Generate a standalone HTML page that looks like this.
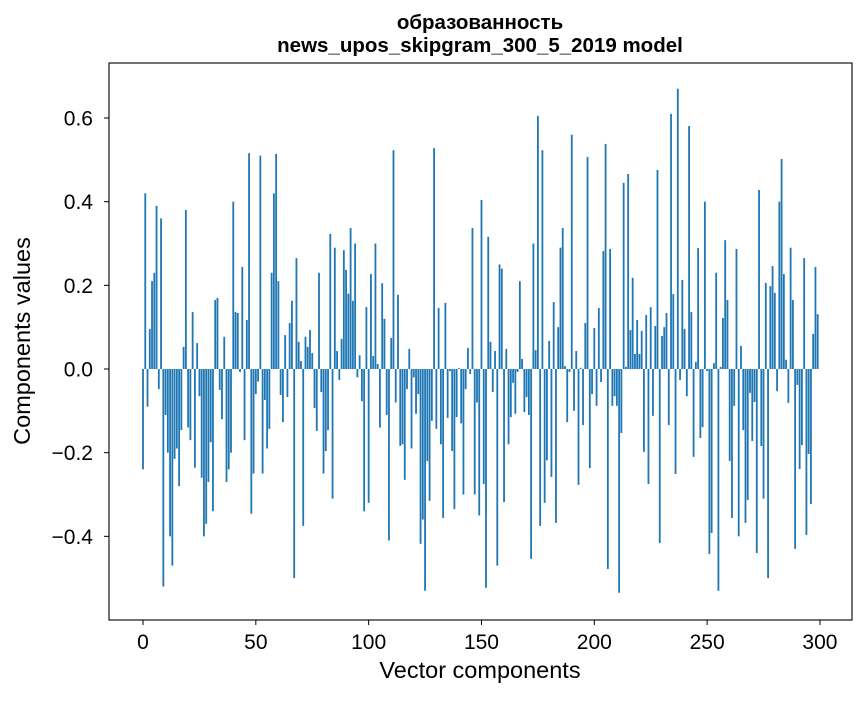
<!DOCTYPE html>
<html><head><meta charset="utf-8"><style>
body{margin:0;background:#fff;}
svg text{font-family:"Liberation Sans","DejaVu Sans",sans-serif;fill:#000;}
</style></head><body>
<svg id="chart" width="867" height="696" viewBox="0 0 867 696" xmlns="http://www.w3.org/2000/svg">
<rect width="867" height="696" fill="#fff"/>
<text x="480" y="29" text-anchor="middle" font-size="20.5" font-weight="bold">образованность</text>
<text x="480" y="52" text-anchor="middle" font-size="20.5" font-weight="bold">news_upos_skipgram_300_5_2019 model</text>
<g id="bars"></g>
<g id="axes"></g>
<text x="480" y="678" text-anchor="middle" font-size="23.5">Vector components</text>
<text transform="translate(30,341) rotate(-90)" text-anchor="middle" font-size="23.5">Components values</text>
</svg>
<script>
const values = [
-0.24,0.42,-0.09,0.096,0.21,0.23,0.39,-0.048,0.36,-0.52,
-0.11,-0.20,-0.40,-0.47,-0.215,-0.19,-0.28,-0.146,0.053,0.38,
-0.14,-0.17,0.136,-0.236,0.062,-0.065,-0.26,-0.40,-0.37,-0.27,
-0.175,-0.34,0.165,0.17,-0.05,-0.12,0.077,-0.27,-0.24,-0.2,
0.40,0.136,0.134,-0.007,0.244,-0.17,0.117,0.516,-0.346,-0.25,
-0.06,-0.03,0.51,-0.25,-0.074,-0.19,-0.143,0.23,0.42,0.514,
0.21,-0.062,-0.127,0.081,-0.067,0.11,0.163,-0.50,0.265,0.065,
0.019,-0.375,0.077,0.053,0.093,0.038,-0.093,-0.148,0.23,-0.055,
-0.25,-0.196,-0.146,0.323,-0.31,0.29,0.043,-0.026,0.072,0.284,
0.237,0.18,0.337,0.163,0.30,-0.02,0.033,-0.077,-0.34,0.148,
-0.32,0.227,0.031,0.30,0.012,-0.14,0.205,0.12,-0.11,-0.41,
0.074,0.523,-0.08,0.177,-0.184,-0.18,-0.265,-0.048,0.048,-0.19,
-0.02,-0.107,-0.06,-0.418,-0.36,-0.53,-0.22,-0.315,-0.124,0.528,
-0.143,0.146,-0.18,-0.356,0.158,-0.117,-0.005,-0.196,-0.335,-0.115,
0.002,-0.13,-0.30,-0.048,0.05,-0.012,0.337,-0.30,-0.08,-0.35,
0.404,-0.275,-0.523,0.316,0.065,-0.055,0.043,-0.47,0.25,0.24,
-0.318,0.048,-0.18,-0.115,-0.033,-0.107,-0.007,0.21,0.024,-0.103,
-0.067,-0.11,-0.454,0.30,0.045,0.605,-0.375,0.523,-0.32,-0.218,
0.067,-0.258,0.16,-0.368,0.10,0.29,0.337,0.007,-0.127,-0.007,
0.56,-0.10,0.043,-0.277,0.003,-0.134,0.11,0.507,-0.237,-0.06,
0.098,-0.088,0.146,-0.031,0.282,0.538,-0.478,0.287,-0.088,-0.065,
-0.088,-0.535,-0.153,0.445,0.005,0.466,0.093,0.218,0.036,0.117,
0.036,0.091,-0.198,0.129,-0.275,0.148,-0.112,0.103,0.476,-0.416,
0.079,0.1,0.134,-0.134,0.61,0.179,-0.251,0.67,-0.026,0.213,
0.096,-0.065,0.581,0.136,-0.21,0.017,0.289,-0.165,-0.139,0.40,
-0.005,-0.442,-0.392,0.014,0.23,-0.53,0.005,0.122,0.308,0.165,
-0.22,-0.356,-0.088,0.287,-0.40,0.055,-0.146,-0.368,-0.313,-0.057,
-0.172,-0.079,-0.44,0.428,-0.184,-0.31,0.206,-0.50,0.198,0.246,
0.182,-0.053,0.40,0.502,0.227,0.022,-0.081,0.29,0.165,-0.43,
-0.038,-0.239,-0.182,0.265,-0.397,-0.203,-0.323,0.084,0.244,0.131
];
const xTicks = [0,50,100,150,200,250,300];
const yTicks = [-0.4,-0.2,0.0,0.2,0.4,0.6];
const yTickLabels = ["\u22120.4","\u22120.2","0.0","0.2","0.4","0.6"];

const L=109,R=852,T=63,B=620;
const xMin=-15.07,xMax=314.2,yMin=-0.6,yMax=0.7315;
function xs(v){return L+(v-xMin)/(xMax-xMin)*(R-L);}
function ys(v){return B-(v-yMin)/(yMax-yMin)*(B-T);}
const NS="http://www.w3.org/2000/svg";
const gb=document.getElementById('bars');
const bw=(xs(0.8)-xs(0));
values.forEach((v,i)=>{
  const r=document.createElementNS(NS,'rect');
  const y0=ys(0),y1=ys(v);
  r.setAttribute('x',xs(i)-bw/2);
  r.setAttribute('y',Math.min(y0,y1));
  r.setAttribute('width',bw);
  r.setAttribute('height',Math.abs(y1-y0));
  r.setAttribute('fill','#1f77b4');
  
  
  gb.appendChild(r);
});
const ga=document.getElementById('axes');
const frame=document.createElementNS(NS,'rect');
frame.setAttribute('x',L);frame.setAttribute('y',T);
frame.setAttribute('width',R-L);frame.setAttribute('height',B-T);
frame.setAttribute('fill','none');frame.setAttribute('stroke','#000');frame.setAttribute('stroke-width','1.1');


ga.appendChild(frame);
xTicks.forEach(t=>{
  const x=xs(t);
  const l=document.createElementNS(NS,'line');
  l.setAttribute('x1',x);l.setAttribute('x2',x);l.setAttribute('y1',B);l.setAttribute('y2',B+5);
  l.setAttribute('stroke','#000');
  
  
  ga.appendChild(l);
  const tx=document.createElementNS(NS,'text');
  tx.setAttribute('x',x);tx.setAttribute('y',B+29);tx.setAttribute('text-anchor','middle');tx.setAttribute('font-size','21');
  tx.textContent=String(t);
  
  
  ga.appendChild(tx);
});
yTicks.forEach((t,i)=>{
  const y=ys(t);
  const l=document.createElementNS(NS,'line');
  l.setAttribute('x1',L-5);l.setAttribute('x2',L);l.setAttribute('y1',y);l.setAttribute('y2',y);
  l.setAttribute('stroke','#000');
  
  
  ga.appendChild(l);
  const tx=document.createElementNS(NS,'text');
  tx.setAttribute('x',L-16);tx.setAttribute('y',y+7.5);tx.setAttribute('text-anchor','end');tx.setAttribute('font-size','21');
  tx.textContent=yTickLabels[i];
  
  
  ga.appendChild(tx);
});
</script>
</body></html>
